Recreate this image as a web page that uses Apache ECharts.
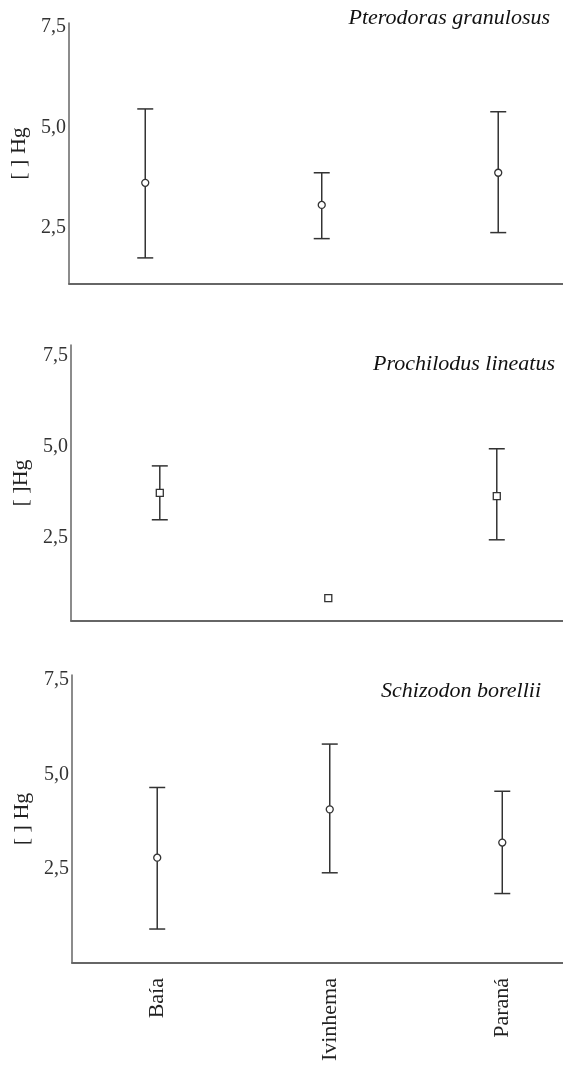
<!DOCTYPE html>
<html>
<head>
<meta charset="utf-8">
<script src="https://cdn.jsdelivr.net/npm/echarts@6/dist/echarts.min.js"></script>
<style>
html, body {margin:0; padding:0; background:#fff;}
#chart {width:563px; height:1070px;}
</style>
</head>
<body>
<div id="chart"></div>
<script type="text/javascript">
// categorias e espécies
var categories = ['Baía', 'Ivinhema', 'Paraná'];
var species = ['Pterodoras granulosus', 'Prochilodus lineatus', 'Schizodon borellii'];
var yNames = ['[ ] Hg', '[ ]Hg', '[ ] Hg'];
var yTicks = [2.5, 5.0, 7.5];

// médias e intervalos (null = sem barra)
var meanPtero = [3.62, 3.07, 3.87];
var lowPtero  = [1.75, 2.23, 2.38];
var highPtero = [5.46, 3.87, 5.39];

var meanProch = [3.74, 0.85, 3.65];
var lowProch  = [3.00, null, 2.45];
var highProch = [4.48, null, 4.95];

var meanSchiz = [2.79, 4.07, 3.19];
var lowSchiz  = [0.90, 2.39, 1.84];
var highSchiz = [4.65, 5.80, 4.55];

var means = [meanPtero, meanProch, meanSchiz];
var lows = [lowPtero, lowProch, lowSchiz];
var highs = [highPtero, highProch, highSchiz];
var symbols = ['circle', 'rect', 'circle'];

var serif = "'Liberation Serif', 'DejaVu Serif', serif";
var ink = '#333';

// layout of the three panels
var grids = [
	{left: 69, top: 23, right: 0, height: 261},
	{left: 71, top: 345, right: 0, height: 276},
	{left: 72, top: 675, right: 0, height: 288}
];
var xRange = [[-0.432, 2.367], [-0.527, 2.393], [-0.494, 2.352]];
var yRange = [[1.1, 7.6], [0.22, 7.8], [0, 7.63]];
var titlePos = [{right: 13, top: 7}, {right: 8, top: 353}, {right: 22, top: 680}];

var dom = document.getElementById('chart');
var myChart = echarts.init(dom);

function renderBar(params, api) {
	var x = api.value(0);
	var lo = api.coord([x, api.value(1)]);
	var hi = api.coord([x, api.value(2)]);
	var w = 8;
	var st = {stroke: ink, lineWidth: 1.5};
	return {
		type: 'group',
		children: [
			{type: 'line', shape: {x1: lo[0], y1: lo[1], x2: hi[0], y2: hi[1]}, style: st},
			{type: 'line', shape: {x1: hi[0] - w, y1: hi[1], x2: hi[0] + w, y2: hi[1]}, style: st},
			{type: 'line', shape: {x1: lo[0] - w, y1: lo[1], x2: lo[0] + w, y2: lo[1]}, style: st}
		]
	};
}

var title = [], xAxis = [], yAxis = [], series = [];
for (var i = 0; i < 3; i++) {
	title.push({
		text: species[i],
		right: titlePos[i].right,
		top: titlePos[i].top,
		padding: 0,
		textStyle: {fontFamily: serif, fontStyle: 'italic', fontWeight: 'normal', fontSize: 22, color: '#111'}
	});
	xAxis.push({
		type: 'value',
		gridIndex: i,
		min: xRange[i][0],
		max: xRange[i][1],
		splitLine: {show: false},
		axisTick: {show: false},
		axisLine: {show: true, onZero: false, lineStyle: {color: '#666', width: 1.8}},
		axisLabel: {
			show: i === 2,
			customValues: [0, 1, 2],
			formatter: function (v) { return categories[Math.round(v)]; },
			rotate: 90,
			margin: 15,
			fontFamily: serif,
			fontSize: 22,
			color: '#222'
		}
	});
	yAxis.push({
		type: 'value',
		gridIndex: i,
		min: yRange[i][0],
		max: yRange[i][1],
		name: yNames[i],
		nameLocation: 'middle',
		nameGap: 34,
		nameTextStyle: {fontFamily: serif, fontSize: 22, color: '#222'},
		splitLine: {show: false},
		axisTick: {show: false},
		axisLine: {show: true, onZero: false, lineStyle: {color: '#666', width: 1.5}},
		axisLabel: {
			customValues: yTicks,
			formatter: function (v) { return v.toFixed(1).replace('.', ','); },
			margin: 3,
			fontFamily: serif,
			fontSize: 20,
			color: '#333'
		}
	});

	var bars = [], pts = [];
	for (var j = 0; j < categories.length; j++) {
		if (lows[i][j] !== null) bars.push([j, lows[i][j], highs[i][j]]);
		pts.push([j, means[i][j]]);
	}
	series.push({
		type: 'custom',
		xAxisIndex: i,
		yAxisIndex: i,
		renderItem: renderBar,
		data: bars,
		silent: true,
		z: 2
	});
	series.push({
		type: 'scatter',
		xAxisIndex: i,
		yAxisIndex: i,
		symbol: symbols[i],
		symbolSize: 7,
		itemStyle: {color: '#fff', borderColor: ink, borderWidth: 1.3, opacity: 1},
		data: pts,
		z: 3
	});
}

var option = {
	backgroundColor: '#fff',
	animation: false,
	title: title,
	grid: grids,
	xAxis: xAxis,
	yAxis: yAxis,
	series: series
};
myChart.setOption(option, true);
</script>
</body>
</html>
